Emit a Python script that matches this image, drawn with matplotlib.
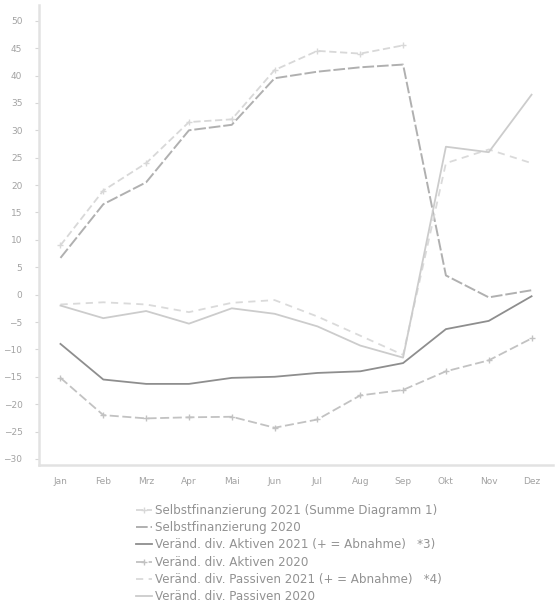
import numpy as np
import matplotlib
matplotlib.use("Agg")
import matplotlib.pyplot as plt

# months on the category axis
months = ["Jan", "Feb", "Mrz", "Apr", "Mai", "Jun", "Jul", "Aug", "Sep", "Okt", "Nov", "Dez"]

# values (NaN = no value)
selbst_2021 = [9.0, 19.0, 24.0, 31.5, 32.0, 41.0, 44.5, 44.0, 45.5, np.nan, np.nan, np.nan]
selbst_2020 = [6.7, 16.5, 20.5, 30.0, 31.0, 39.5, 40.7, 41.5, 42.0, 3.5, -0.5, 0.8]
aktiven_2021 = [-9.0, -15.5, -16.3, -16.3, -15.2, -15.0, -14.3, -14.0, -12.5, -6.3, -4.8, -0.3]
aktiven_2020 = [-15.2, -22.0, -22.6, -22.4, -22.3, -24.3, -22.8, -18.4, -17.4, -14.0, -12.0, -8.0]
passiven_2021 = [-1.8, -1.4, -1.8, -3.2, -1.5, -1.0, -4.0, -7.5, -11.0, 24.0, 26.5, 24.0]
passiven_2020 = [-2.0, -4.3, -3.0, -5.3, -2.5, -3.5, -5.8, -9.3, -11.5, 27.0, 26.0, 36.5]

labels = [
    "Selbstfinanzierung 2021 (Summe Diagramm 1)",
    "Selbstfinanzierung 2020",
    "Veränd. div. Aktiven 2021 (+ = Abnahme)   *3)",
    "Veränd. div. Aktiven 2020",
    "Veränd. div. Passiven 2021 (+ = Abnahme)   *4)",
    "Veränd. div. Passiven 2020",
]

fig = plt.figure(figsize=(5.58, 6.07), dpi=100)
ax = fig.add_axes([0.070, 0.234, 0.921, 0.758])

x = np.arange(len(months))
ax.plot(x, selbst_2021, color="#d8d8d8", lw=1.3, ls=(0, (4, 2)), marker="+", ms=4, label=labels[0])
ax.plot(x, selbst_2020, color="#b0b0b0", lw=1.4, ls=(0, (6, 1.5)), label=labels[1])
ax.plot(x, aktiven_2021, color="#8e8e8e", lw=1.3, label=labels[2])
ax.plot(x, aktiven_2020, color="#c2c2c2", lw=1.3, ls=(0, (5, 2)), marker="+", ms=4, label=labels[3])
ax.plot(x, passiven_2021, color="#dadada", lw=1.3, ls=(0, (4, 3)), label=labels[4])
ax.plot(x, passiven_2020, color="#cccccc", lw=1.3, label=labels[5])

ax.set_xlim(-0.5, 11.5)
ax.set_ylim(-31.1, 52.9)
ax.set_xticks(x)
ax.set_xticklabels(months)
ax.set_yticks(np.arange(-30, 51, 5))

for s in ["top", "right"]:
    ax.spines[s].set_visible(False)
for s in ["left", "bottom"]:
    ax.spines[s].set_color("#e2e2e2")
    ax.spines[s].set_linewidth(1.8)

ax.tick_params(axis="y", length=3, pad=9, colors="#d6d6d6", labelcolor="#a2a2a2", labelsize=6.5)
ax.tick_params(axis="x", length=0, pad=9, labelcolor="#a2a2a2", labelsize=6.5)

handles, labs = ax.get_legend_handles_labels()
fig.legend(handles, labs, loc="upper left", bbox_to_anchor=(0.243, 0.170),
           frameon=False, fontsize=8.6, labelcolor="#929292",
           handlelength=1.4, handletextpad=0.25, labelspacing=0.36,
           borderaxespad=0, borderpad=0)

fig.savefig("out.png", dpi=100)
